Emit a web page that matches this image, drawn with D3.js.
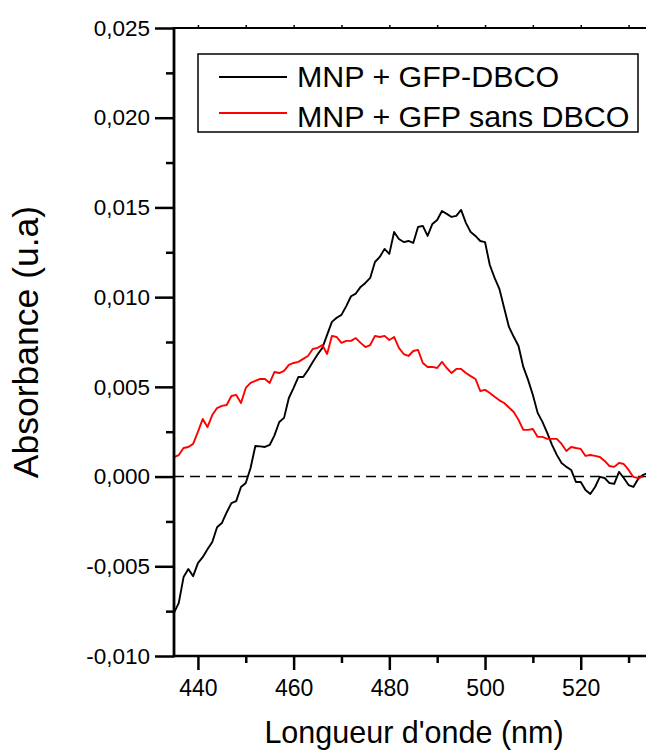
<!DOCTYPE html>
<html>
<head>
<meta charset="utf-8">
<script src="https://cdn.jsdelivr.net/npm/d3@7"></script>
<style>
  html, body { margin: 0; padding: 0; background: #fff; }
  svg { display: block; font-family: "Liberation Sans", Arial, sans-serif; }
</style>
</head>
<body>
<svg id="chart" width="646" height="751"></svg>
<script>
// ---- data ----
const wavelengths = d3.range(435, 535); // 435..534 nm
const seriesNames = ["MNP + GFP-DBCO", "MNP + GFP sans DBCO"];
const seriesColors = ["#000000", "#ff0000"];
// absorbance x 1e-3
const gfpDbco = [
  -7.60, -7.04, -5.60, -5.15, -5.55, -4.82, -4.49, -4.05, -3.65, -2.82,
  -2.59, -2.00, -1.48, -1.37, -0.58, -0.36, 0.48, 1.70, 1.68, 1.65,
  1.76, 2.30, 3.04, 3.27, 4.38, 4.94, 5.55, 5.55, 5.94, 6.39,
  6.80, 7.17, 7.90, 8.62, 8.85, 9.01, 9.50, 10.05, 10.20, 10.57,
  10.79, 11.07, 11.96, 12.24, 12.69, 12.41, 13.63, 13.24, 13.07, 13.13,
  13.02, 13.91, 13.97, 13.41, 14.08, 14.30, 14.80, 14.64, 14.47, 14.53,
  14.86, 14.14, 13.63, 13.41, 13.13, 13.07, 11.79, 11.07, 10.46, 9.40,
  8.34, 7.79, 7.28, 6.11, 5.39, 4.55, 3.55, 3.05, 2.44, 1.77,
  1.21, 0.76, 0.54, 0.37, -0.30, -0.30, -0.75, -0.97, -0.58, -0.02,
  -0.08, -0.36, -0.41, 0.26, -0.08, -0.47, -0.58, -0.13, 0.09, 0.20
];
const gfpSansDbco = [
  1.09, 1.20, 1.59, 1.65, 1.82, 2.49, 3.21, 2.76, 3.43, 3.82,
  3.94, 3.99, 4.49, 4.55, 4.10, 4.94, 5.22, 5.33, 5.44, 5.44,
  5.22, 5.83, 5.77, 5.89, 6.22, 6.33, 6.39, 6.56, 6.72, 7.11,
  7.17, 7.33, 6.83, 7.84, 7.78, 7.45, 7.56, 7.56, 7.72, 7.45,
  7.22, 7.33, 7.84, 7.78, 7.84, 7.61, 7.78, 7.17, 6.83, 6.72,
  7.00, 7.06, 6.33, 6.11, 6.11, 6.05, 6.39, 6.05, 5.77, 6.00,
  6.00, 5.77, 5.60, 5.44, 4.77, 4.83, 4.66, 4.45, 4.25, 4.10,
  3.85, 3.60, 3.16, 2.60, 2.60, 2.65, 2.21, 2.21, 2.10, 2.10,
  2.10, 1.82, 1.43, 1.65, 1.59, 1.54, 1.15, 1.20, 1.15, 1.09,
  0.87, 0.59, 0.54, 0.76, 0.70, 0.37, -0.02, -0.08, 0.00
];
const xTicks = [440, 460, 480, 500, 520];
const xMinorTicks = [450, 470, 490, 510, 530];
const yTicks = [-0.010, -0.005, 0.000, 0.005, 0.010, 0.015, 0.020, 0.025];
const yTickLabels = ["-0,010", "-0,005", "0,000", "0,005", "0,010", "0,015", "0,020", "0,025"];
const yMinorTicks = [-0.0075, -0.0025, 0.0025, 0.0075, 0.0125, 0.0175, 0.0225];
const xTitle = "Longueur d'onde (nm)";
const yTitle = "Absorbance (u.a)";

// ---- layout ----
const svg = d3.select("#chart");
const L = 174, R = 652.5, T = 28, B = 656;
const x = d3.scaleLinear().domain([435, 535]).range([L, R]);
const y = d3.scaleLinear().domain([-0.010, 0.025]).range([B, T]);

svg.append("defs").append("clipPath").attr("id", "plotclip")
  .append("rect").attr("x", L).attr("y", T).attr("width", R - L).attr("height", B - T);

// zero dashed line
svg.append("line")
  .attr("x1", L).attr("x2", R).attr("y1", y(0)).attr("y2", y(0))
  .attr("stroke", "#000").attr("stroke-width", 1.6).attr("stroke-dasharray", "10,6");

// series
const series = [gfpDbco, gfpSansDbco];
const line = d3.line().x(d => x(d[0])).y(d => y(d[1] / 1000));
series.forEach((vals, i) => {
  const pts = vals.map((v, j) => [wavelengths[j], v]);
  svg.append("path")
    .attr("clip-path", "url(#plotclip)")
    .attr("d", line(pts))
    .attr("fill", "none")
    .attr("stroke", seriesColors[i])
    .attr("stroke-width", 1.9)
    .attr("stroke-linejoin", "round");
});

// axes
const gx = svg.append("g").attr("transform", `translate(0,${B})`)
  .call(d3.axisBottom(x).tickValues(xTicks).tickSize(14).tickPadding(10).tickFormat(d3.format("d")));
gx.append("g").call(d3.axisBottom(x).tickValues(xMinorTicks).tickSize(7).tickFormat(""));
gx.selectAll(".domain").remove();
gx.selectAll("line").attr("stroke-width", 2.5);
gx.selectAll("text").attr("font-size", 23).attr("fill", "#000");

const gy = svg.append("g").attr("transform", `translate(${L},0)`)
  .call(d3.axisLeft(y).tickValues(yTicks).tickSize(19).tickPadding(5)
    .tickFormat((d, i) => yTickLabels[i]));
gy.append("g").call(d3.axisLeft(y).tickValues(yMinorTicks).tickSize(8).tickFormat(""));
gy.selectAll(".domain").remove();
gy.selectAll("line").attr("stroke-width", 2.5);
gy.selectAll("text").attr("font-size", 22.5).attr("fill", "#000");

// top ticks
const gt = svg.append("g").attr("transform", `translate(0,${T})`)
  .call(d3.axisTop(x).tickValues(xTicks.concat(xMinorTicks)).tickSize(3).tickFormat(""));
gt.selectAll(".domain").remove();
gt.selectAll("line").attr("stroke-width", 1.5);

// frame lines
svg.append("line").attr("x1", L).attr("x2", R).attr("y1", B).attr("y2", B)
  .attr("stroke", "#000").attr("stroke-width", 2.5);
svg.append("line").attr("x1", L).attr("x2", R).attr("y1", T).attr("y2", T)
  .attr("stroke", "#000").attr("stroke-width", 2);
svg.append("line").attr("x1", L).attr("x2", L).attr("y1", T - 1).attr("y2", B + 1.2)
  .attr("stroke", "#000").attr("stroke-width", 2.8);

// titles
svg.append("text").attr("x", 414).attr("y", 743).attr("text-anchor", "middle")
  .attr("font-size", 30.5).text(xTitle);
svg.append("text").attr("transform", "translate(38,342) rotate(-90)")
  .attr("text-anchor", "middle").attr("font-size", 35.5).text(yTitle);

// legend
const lg = svg.append("g");
lg.append("rect").attr("x", 198).attr("y", 54).attr("width", 440).attr("height", 78)
  .attr("fill", "#fff").attr("stroke", "#000").attr("stroke-width", 1.5);
seriesNames.forEach((name, i) => {
  const yy = 77 + i * 36;
  lg.append("line").attr("x1", 219).attr("x2", 287).attr("y1", yy).attr("y2", yy)
    .attr("stroke", seriesColors[i]).attr("stroke-width", 1.8);
  lg.append("text").attr("x", 297).attr("y", 87 + i * 40).attr("font-size", 30.4)
    .attr("fill", "#000").text(name);
});
</script>
</body>
</html>
